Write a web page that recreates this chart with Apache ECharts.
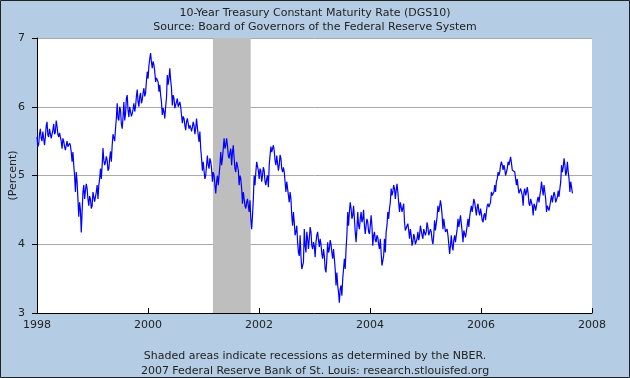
<!DOCTYPE html>
<html>
<head>
<meta charset="utf-8">
<script src="https://cdn.jsdelivr.net/npm/echarts@6/dist/echarts.min.js"></script>
<style>
html,body{margin:0;padding:0;background:#B4CDE5;}
#chart{width:630px;height:378px;}
</style>
</head>
<body>
<div id="chart"></div>
<script>
// Readings sampled at uniform steps from early Jan 1998 (decimal years)
const sampleStart = 1998.0;
const sampleStep = 0.0301;

// Upper and lower value of each sampled stretch (percent)
const highs = [
  5.56,5.6,5.68,5.64,5.66,5.72,5.78,5.68,5.68,5.66,5.75,5.8,5.72,5.62,5.6,5.54,5.5,5.44,5.5,5.47,5.44,5.34,5.15,5.05,4.91,4.61,4.5,4.76,4.86,4.88,4.81,4.7,4.66,4.76,4.74,4.76,4.86,4.95,5.1,5.4,5.22,5.28,5.22,5.25,5.35,5.6,5.62,5.83,
  6.05,6.0,5.95,5.85,6.07,6.12,6.17,6.0,5.98,5.96,6.05,6.15,6.25,6.15,6.2,6.2,6.27,6.37,6.51,6.7,6.78,6.66,6.61,6.42,6.41,6.32,6.17,5.98,5.93,6.12,6.46,6.56,6.39,6.17,6.12,6.07,6.12,6.07,6.0,5.86,5.83,5.78,5.83,5.73,5.7,5.78,5.73,5.83,
  5.7,5.64,5.39,5.2,5.07,5.15,5.29,5.25,5.2,5.05,5.0,4.91,5.0,5.15,5.34,5.39,5.54,5.54,5.44,5.34,5.39,5.44,5.25,5.2,5.18,5.0,4.95,4.76,4.74,4.61,4.66,4.64,4.37,4.66,5.0,5.2,5.22,5.1,5.07,5.12,5.07,4.95,5.0,5.29,5.42,5.44,5.36,5.29,
  5.27,5.3,5.25,5.12,5.05,4.91,4.91,4.76,4.66,4.47,4.32,4.27,4.03,4.13,3.83,3.74,4.22,4.18,4.08,4.25,4.18,4.03,3.98,4.13,4.18,4.08,4.0,3.93,3.83,3.79,4.03,4.06,4.0,3.93,3.79,3.59,3.4,3.35,3.4,3.64,3.79,4.13,4.47,4.61,4.52,4.56,4.37,4.22,
  4.47,4.37,4.47,4.5,4.27,4.37,4.32,4.27,4.42,4.13,4.18,4.13,4.1,4.08,3.88,3.83,4.08,4.27,4.47,4.61,4.81,4.86,4.81,4.88,4.76,4.61,4.54,4.59,4.32,4.27,4.3,4.22,4.13,4.15,4.1,4.08,4.18,4.27,4.25,4.22,4.2,4.32,4.25,4.22,4.18,4.13,4.35,4.4,
  4.56,4.64,4.56,4.37,4.27,4.22,4.13,3.98,4.13,4.06,4.13,4.22,4.37,4.42,4.3,4.2,4.18,4.27,4.37,4.49,4.56,4.66,4.61,4.54,4.59,4.52,4.45,4.42,4.45,4.56,4.59,4.61,4.76,4.76,4.86,4.95,5.05,5.15,5.2,5.15,5.1,5.1,5.2,5.27,5.18,5.1,5.05,4.95,
  4.83,4.81,4.83,4.76,4.81,4.83,4.74,4.66,4.64,4.59,4.56,4.64,4.69,4.78,4.91,4.86,4.76,4.56,4.56,4.64,4.71,4.76,4.71,4.69,4.78,4.91,5.15,5.25,5.15,5.2,5.05,4.91,4.83
];
const lows = [
  5.42,5.45,5.54,5.5,5.44,5.56,5.59,5.56,5.54,5.54,5.6,5.63,5.6,5.56,5.5,5.39,5.42,5.37,5.42,5.4,5.34,5.2,5.0,4.76,4.66,4.4,4.17,4.47,4.66,4.78,4.66,4.56,4.52,4.56,4.62,4.64,4.66,4.86,4.95,5.15,5.15,5.2,5.07,5.1,5.2,5.44,5.5,5.68,
  5.83,5.8,5.75,5.68,5.8,5.9,5.95,5.85,5.86,5.9,5.93,6.0,6.07,6.0,6.05,6.1,6.15,6.2,6.41,6.6,6.65,6.56,6.51,6.36,6.36,6.22,6.07,5.88,5.83,6.0,6.32,6.41,6.27,6.02,5.98,5.98,6.0,5.98,5.88,5.76,5.73,5.66,5.76,5.68,5.64,5.7,5.6,5.68,
  5.59,5.49,5.25,5.07,4.95,5.0,5.15,5.1,5.1,4.91,4.86,4.74,4.86,5.0,5.15,5.25,5.39,5.44,5.29,5.25,5.15,5.34,5.1,5.05,5.08,4.86,4.81,4.59,4.56,4.52,4.56,4.47,4.22,4.42,4.86,5.05,5.07,4.95,4.91,5.0,4.91,4.86,4.83,5.15,5.34,5.34,5.22,5.15,
  5.07,5.15,5.1,5.05,4.91,4.76,4.71,4.61,4.42,4.27,4.13,4.18,3.88,3.83,3.64,3.62,3.98,3.88,3.93,4.08,3.98,3.93,3.81,4.03,4.06,3.96,3.86,3.79,3.64,3.59,3.88,3.93,3.88,3.79,3.64,3.4,3.3,3.15,3.25,3.49,3.64,3.93,4.27,4.47,4.37,4.42,4.18,4.03,
  4.27,4.22,4.32,4.37,4.15,4.27,4.18,4.15,4.27,3.98,4.06,4.03,4.0,3.93,3.69,3.69,3.88,4.18,4.37,4.52,4.71,4.76,4.66,4.78,4.61,4.47,4.47,4.49,4.2,4.2,4.2,4.08,3.98,4.03,4.0,3.98,4.06,4.13,4.13,4.08,4.13,4.18,4.13,4.13,4.06,4.0,4.2,4.3,
  4.47,4.54,4.42,4.22,4.18,4.18,4.0,3.86,3.98,3.91,4.03,4.13,4.25,4.27,4.18,4.03,4.1,4.18,4.25,4.4,4.47,4.56,4.52,4.42,4.47,4.42,4.35,4.32,4.35,4.47,4.54,4.54,4.71,4.69,4.76,4.91,5.0,5.05,5.15,5.08,5.0,5.0,5.15,5.15,5.08,5.07,4.95,4.86,
  4.74,4.76,4.71,4.56,4.71,4.76,4.59,4.56,4.56,4.42,4.49,4.56,4.61,4.71,4.81,4.71,4.66,4.47,4.49,4.56,4.61,4.69,4.61,4.61,4.69,4.81,5.05,5.12,5.0,5.05,4.95,4.76,4.74
];

// Recession (NBER): March 2001 - November 2001, decimal years
const recessionStart = [2001.17];
const recessionEnd = [2001.85];

const xTicks = [1998, 2000, 2002, 2004, 2006, 2008];
const yTicks = [3, 4, 5, 6, 7];

const titleText = '10-Year Treasury Constant Maturity Rate (DGS10)';
const subtitleText = 'Source: Board of Governors of the Federal Reserve System';
const footer1 = 'Shaded areas indicate recessions as determined by the NBER.';
const footer2 = '2007 Federal Reserve Bank of St. Louis: research.stlouisfed.org';
const yName = '(Percent)';

const lineData = [];
for (let i = 0; i < highs.length; i++) {
  const t = sampleStart + i * sampleStep;
  if (i % 2 === 0) {
    lineData.push([t, highs[i]]);
    lineData.push([t + sampleStep / 2, lows[i]]);
  } else {
    lineData.push([t, lows[i]]);
    lineData.push([t + sampleStep / 2, highs[i]]);
  }
}

const FONT = 'DejaVu Sans';
const chart = echarts.init(document.getElementById('chart'), null, {renderer: 'canvas'});
chart.setOption({
  backgroundColor: '#B4CDE5',
  animation: false,
  textStyle: {fontFamily: FONT},
  title: [
    {text: titleText, left: 'center', top: 3, textStyle: {fontSize: 11, fontWeight: 'normal', color: '#222', fontFamily: FONT}},
    {text: subtitleText, left: 'center', top: 17, textStyle: {fontSize: 11, fontWeight: 'normal', color: '#222', fontFamily: FONT}},
    {text: footer1, left: 'center', top: 346, textStyle: {fontSize: 11, fontWeight: 'normal', color: '#222', fontFamily: FONT}},
    {text: footer2, left: 'center', top: 361, textStyle: {fontSize: 11, fontWeight: 'normal', color: '#222', fontFamily: FONT}}
  ],
  grid: {left: 37, right: 38, top: 38, bottom: 65, show: true, backgroundColor: '#FFFFFF', borderWidth: 0, containLabel: false, outerBoundsMode: 'none'},
  xAxis: {
    type: 'value', min: xTicks[0], max: xTicks[xTicks.length - 1], interval: 2,
    axisLine: {show: true, lineStyle: {color: '#000', width: 1}},
    axisTick: {show: true, inside: true, length: 5, lineStyle: {color: '#000'}},
    axisLabel: {color: '#222', fontSize: 11, margin: 7, formatter: v => String(v)},
    splitLine: {show: false}
  },
  yAxis: {
    type: 'value', min: yTicks[0], max: yTicks[yTicks.length - 1], interval: 1,
    name: yName, nameLocation: 'middle', nameGap: 18, nameRotate: 90, nameMoveOverlap: false,
    nameTextStyle: {color: '#222', fontSize: 11},
    axisLine: {show: true, lineStyle: {color: '#000', width: 1}},
    axisTick: {show: true, length: 5, lineStyle: {color: '#000'}},
    axisLabel: {color: '#222', fontSize: 11, margin: 12},
    splitLine: {show: true, lineStyle: {color: '#AAAAAA', width: 1}}
  },
  graphic: [{type: 'rect', shape: {x: 0.5, y: 0.5, width: 629, height: 377}, style: {fill: 'none', stroke: '#222', lineWidth: 1}, z: 100}],
  series: [{
    type: 'line', data: lineData, showSymbol: false, symbol: 'none',
    lineStyle: {color: '#0000FF', width: 1.2}, z: 5,
    markArea: {
      silent: true,
      itemStyle: {color: '#BEBEBE'},
      data: recessionStart.map((s, i) => [{xAxis: s}, {xAxis: recessionEnd[i]}])
    }
  }]
});
</script>
</body>
</html>
